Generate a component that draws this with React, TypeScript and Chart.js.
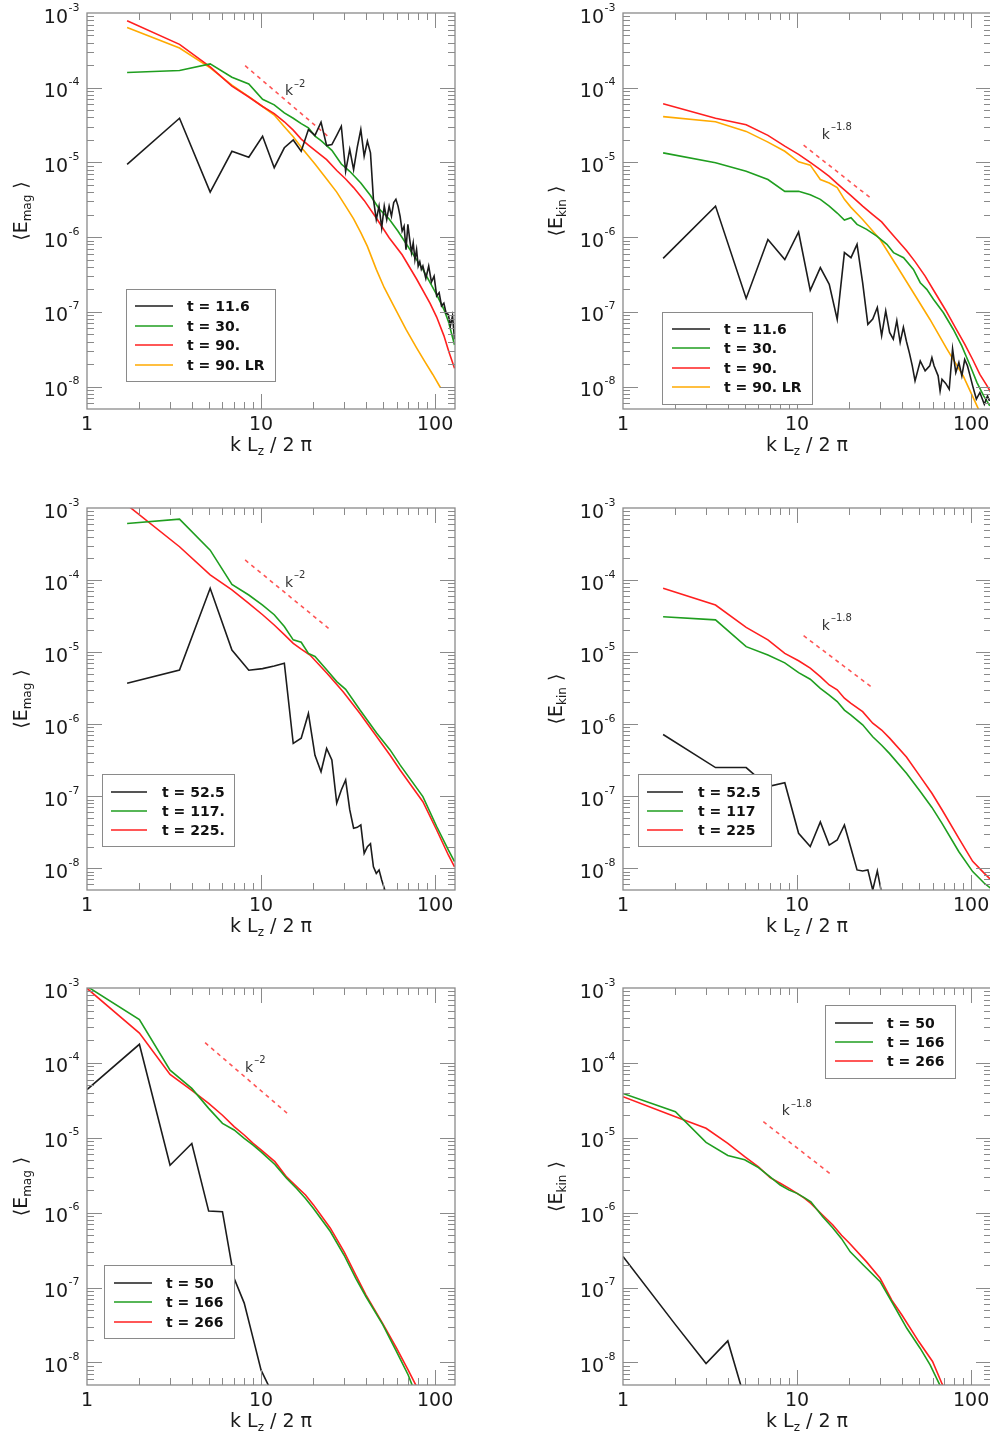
import React, { useEffect, useRef } from "react";
import { Chart, registerables } from "chart.js";

Chart.register(...registerables);

const FONT = '"DejaVu Sans", "Liberation Sans", sans-serif';
const C_BLACK = "#1c1c1c";
const C_GREEN = "#1f9e1f";
const C_RED = "#ff1f1f";
const C_ORANGE = "#ffaa00";
const C_SLOPE = "#ff5555";
const C_AXIS = "#8a8a8a";
const C_TEXT = "#1a1a1a";

const X_MIN = 1;
const X_MAX = 130;
const Y_MIN = 5e-9;
const Y_MAX = 1e-3;
const X_TICK_VALUES = [1, 10, 100];
const X_TICK_LABELS = ["1", "10", "100"];
const Y_TICK_EXPONENTS = [-3, -4, -5, -6, -7, -8];

const LEGEND_TOP = ["t = 11.6", "t = 30.", "t = 90.", "t = 90. LR"];
const LEGEND_MID_MAG = ["t = 52.5", "t = 117.", "t = 225."];
const LEGEND_MID_KIN = ["t = 52.5", "t = 117", "t = 225"];
const LEGEND_BOT = ["t = 50", "t = 166", "t = 266"];

// ---------- Top-left: <E_mag>, t = 11.6 / 30 / 90 / 90 LR ----------
const TL_K_BLACK = [1.7, 3.4, 5.1, 6.8, 8.5, 10.2, 11.9, 13.6, 15.3, 17, 18.7, 20.4, 22.1, 23.8, 25.5, 27.2, 28.9, 30.6, 32.3, 34, 35.7, 37.4, 39.1, 40.8, 42.5, 44.2, 45.9, 47.6, 49.3, 51, 52.7, 54.4, 56.1, 57.8, 59.5, 61.2, 62.9, 64.6, 66.3, 68, 69.7, 71.4, 73.1, 74.8, 76.5, 78.2, 79.9, 81.6, 83.3, 85, 88.4, 91.8, 95.2, 98.6, 102, 105.4, 108.8, 112.2, 115.6, 119, 122.4, 125.8, 129.2];
const TL_E_BLACK = [9.4e-6, 3.9e-5, 4.0e-6, 1.41e-5, 1.17e-5, 2.24e-5, 8.5e-6, 1.57e-5, 2.0e-5, 1.41e-5, 2.75e-5, 2.3e-5, 3.45e-5, 1.68e-5, 1.73e-5, 2.3e-5, 3.05e-5, 7.6e-6, 1.5e-5, 8.0e-6, 1.6e-5, 2.75e-5, 1.21e-5, 1.92e-5, 1.34e-5, 3.2e-6, 1.72e-6, 2.6e-6, 1.33e-6, 2.6e-6, 1.72e-6, 2.6e-6, 1.91e-6, 2.9e-6, 3.2e-6, 2.6e-6, 1.9e-6, 1.2e-6, 1.4e-6, 6.8e-7, 1.48e-6, 9.3e-7, 6.2e-7, 8.4e-7, 5.0e-7, 6.8e-7, 4.1e-7, 4.7e-7, 3.7e-7, 4.1e-7, 2.8e-7, 4.1e-7, 2.5e-7, 3.0e-7, 1.63e-7, 1.8e-7, 1.2e-7, 1.3e-7, 9.6e-8, 9.2e-8, 6.5e-8, 8.8e-8, 4.3e-8];
const TL_K_GREEN = [1.7, 3.4, 5.1, 6.8, 8.5, 10.2, 11.9, 13.6, 15.3, 17, 18.7, 20.4, 22.1, 25.5, 28.9, 32.3, 37.4, 42.5, 47.6, 54.4, 61.2, 68, 78.2, 85, 93.5, 102, 112.2, 119, 129.2];
const TL_E_GREEN = [1.6e-4, 1.7e-4, 2.08e-4, 1.38e-4, 1.12e-4, 7.0e-5, 5.9e-5, 4.6e-5, 3.9e-5, 3.3e-5, 2.9e-5, 2.25e-5, 1.95e-5, 1.45e-5, 9.5e-6, 7.6e-6, 5.3e-6, 3.6e-6, 2.4e-6, 1.75e-6, 1.2e-6, 8.2e-7, 5.0e-7, 3.7e-7, 2.45e-7, 1.7e-7, 1.08e-7, 7.5e-8, 3.6e-8];
const TL_K_RED = [1.7, 3.4, 5.1, 6.8, 8.5, 10.2, 11.9, 13.6, 15.3, 17, 18.7, 20.4, 23.8, 27.2, 30.6, 34, 39.1, 45.9, 54.4, 64.6, 78.2, 93.5, 102, 112.2, 120, 129.2];
const TL_E_RED = [7.9e-4, 3.8e-4, 1.9e-4, 1.05e-4, 7.5e-5, 5.6e-5, 4.5e-5, 3.5e-5, 2.7e-5, 2.05e-5, 1.7e-5, 1.45e-5, 1.09e-5, 7.8e-6, 6.0e-6, 4.6e-6, 3.1e-6, 1.8e-6, 9.8e-7, 5.8e-7, 2.75e-7, 1.3e-7, 8.5e-8, 4.8e-8, 2.9e-8, 1.75e-8];
const TL_K_ORANGE = [1.7, 3.4, 5.1, 6.8, 8.5, 10.2, 11.9, 13.6, 15.3, 17, 20.4, 23.8, 27.2, 30.6, 34, 37.4, 40.8, 45.9, 51, 57.8, 68, 78.2, 86.7, 96.9, 107.1];
const TL_E_ORANGE = [6.4e-4, 3.4e-4, 1.84e-4, 1.08e-4, 7.6e-5, 5.6e-5, 4.3e-5, 3.0e-5, 2.2e-5, 1.6e-5, 9.5e-6, 6.0e-6, 4.0e-6, 2.6e-6, 1.75e-6, 1.15e-6, 7.5e-7, 3.7e-7, 2.1e-7, 1.2e-7, 5.8e-8, 3.3e-8, 2.2e-8, 1.45e-8, 9.7e-9];
const TL_K_SLOPE = [8.1, 24.4];
const TL_E_SLOPE = [1.97e-4, 2.2e-5];

// ---------- Top-right: <E_kin>, t = 11.6 / 30 / 90 / 90 LR ----------
const TR_K_BLACK = [1.7, 3.4, 5.1, 6.8, 8.5, 10.2, 11.9, 13.6, 15.3, 17, 18.7, 20.4, 22.1, 23.8, 25.5, 27.2, 28.9, 30.6, 32.3, 34, 35.7, 37.4, 39.1, 40.8, 42.5, 44.2, 45.9, 47.6, 51, 54.4, 57.8, 59.5, 61.2, 64.6, 66.3, 68, 71.4, 74.8, 78.2, 81.6, 85, 88.4, 91.8, 95.2, 98.6, 102, 107.1, 112.2, 119, 124.1, 127.5];
const TR_E_BLACK = [5.2e-7, 2.6e-6, 1.51e-7, 9.3e-7, 5.0e-7, 1.17e-6, 1.94e-7, 3.9e-7, 2.33e-7, 7.9e-8, 6.2e-7, 5.3e-7, 8.0e-7, 2.45e-7, 6.8e-8, 8.0e-8, 1.14e-7, 4.8e-8, 1.03e-7, 5.3e-8, 4.3e-8, 7.6e-8, 3.9e-8, 6.2e-8, 4.0e-8, 2.8e-8, 1.89e-8, 1.19e-8, 2.2e-8, 1.62e-8, 1.89e-8, 2.44e-8, 1.9e-8, 1.39e-8, 8.7e-9, 1.25e-8, 1.1e-8, 9.2e-9, 3.2e-8, 1.54e-8, 2.1e-8, 1.39e-8, 2.3e-8, 1.9e-8, 1.39e-8, 1.02e-8, 6.8e-9, 8.3e-9, 5.8e-9, 7.5e-9, 6.4e-9];
const TR_K_GREEN = [1.7, 3.4, 5.1, 6.8, 8.5, 10.2, 11.9, 13.6, 15.3, 17, 18.7, 20.4, 22.1, 25.1, 28.7, 32.8, 35.8, 40.9, 46.6, 51, 55.6, 60.7, 69.3, 79, 88.3, 98.7, 108, 118, 128];
const TR_E_GREEN = [1.34e-5, 9.9e-6, 7.6e-6, 5.9e-6, 4.1e-6, 4.1e-6, 3.7e-6, 3.2e-6, 2.6e-6, 2.1e-6, 1.69e-6, 1.82e-6, 1.48e-6, 1.27e-6, 1.03e-6, 8.0e-7, 6.2e-7, 5.3e-7, 3.7e-7, 2.45e-7, 2.0e-7, 1.47e-7, 9.7e-8, 5.8e-8, 3.5e-8, 1.9e-8, 1.13e-8, 7.5e-9, 5.5e-9];
const TR_K_RED = [1.7, 3.4, 5.1, 6.8, 8.5, 10.2, 11.9, 13.6, 15.3, 17, 20.4, 23.8, 27.2, 30.6, 34, 37.4, 42.5, 47.6, 54.4, 61.2, 71.4, 81.6, 91.8, 102, 112.2, 122.4, 129.2];
const TR_E_RED = [6.1e-5, 3.9e-5, 3.2e-5, 2.3e-5, 1.65e-5, 1.28e-5, 1.0e-5, 8.0e-6, 6.5e-6, 5.2e-6, 3.6e-6, 2.6e-6, 2.0e-6, 1.6e-6, 1.2e-6, 9.3e-7, 6.6e-7, 4.7e-7, 3.0e-7, 1.9e-7, 1.05e-7, 6.0e-8, 3.7e-8, 2.3e-8, 1.45e-8, 1.05e-8, 8.5e-9];
const TR_K_ORANGE = [1.7, 3.4, 5.1, 6.8, 8.5, 10.2, 11.9, 13.6, 15.3, 17, 18.7, 20.4, 23.8, 30, 37.4, 46.6, 58, 72.5, 90, 108, 118];
const TR_E_ORANGE = [4.1e-5, 3.5e-5, 2.6e-5, 1.87e-5, 1.41e-5, 1.02e-5, 9.2e-6, 5.9e-6, 5.3e-6, 4.6e-6, 3.2e-6, 2.5e-6, 1.72e-6, 9.3e-7, 4.1e-7, 1.8e-7, 7.9e-8, 3.2e-8, 1.39e-8, 5.5e-9, 3.5e-9];
const TR_K_SLOPE = [10.9, 27.1];
const TR_E_SLOPE = [1.7e-5, 3.19e-6];

// ---------- Middle-left: <E_mag>, t = 52.5 / 117 / 225 ----------
const ML_K_BLACK = [1.7, 3.4, 5.1, 6.8, 8.5, 10.2, 11.9, 13.6, 15.3, 17, 18.7, 20.4, 22.1, 23.8, 25.5, 27.2, 28.9, 30.6, 32.3, 34, 35.7, 37.4, 39.1, 40.8, 42.5, 44.2, 45.9, 47.6, 49.3, 51, 52.7];
const ML_E_BLACK = [3.7e-6, 5.65e-6, 7.7e-5, 1.07e-5, 5.6e-6, 5.9e-6, 6.4e-6, 7.0e-6, 5.4e-7, 6.4e-7, 1.41e-6, 3.7e-7, 2.19e-7, 4.6e-7, 3.2e-7, 8.0e-8, 1.22e-7, 1.68e-7, 6.5e-8, 3.6e-8, 3.7e-8, 4.0e-8, 1.61e-8, 2.0e-8, 2.2e-8, 1.05e-8, 8.5e-9, 9.5e-9, 6.9e-9, 5.3e-9, 4.0e-9];
const ML_K_GREEN = [1.7, 3.4, 5.1, 6.8, 8.5, 10.2, 11.9, 13.6, 15.3, 17, 18.7, 20.4, 23.8, 27.2, 30.6, 37, 46.2, 55.1, 63, 85, 102, 119, 129.2];
const ML_E_GREEN = [6.1e-4, 7.0e-4, 2.6e-4, 8.7e-5, 6.2e-5, 4.5e-5, 3.3e-5, 2.26e-5, 1.48e-5, 1.37e-5, 9.6e-6, 8.7e-6, 5.7e-6, 3.9e-6, 3.05e-6, 1.57e-6, 7.5e-7, 4.4e-7, 2.7e-7, 9.9e-8, 3.8e-8, 1.8e-8, 1.24e-8];
const ML_K_RED = [1.7, 3.4, 5.1, 6.8, 8.5, 10.2, 11.9, 13.6, 15.3, 17, 19.1, 23.9, 29.6, 37, 46.2, 55.1, 63, 85, 102, 119, 129.2];
const ML_E_RED = [1.1e-3, 2.9e-4, 1.18e-4, 7.3e-5, 4.75e-5, 3.3e-5, 2.38e-5, 1.75e-5, 1.32e-5, 1.1e-5, 9.1e-6, 5.1e-6, 2.82e-6, 1.41e-6, 6.7e-7, 3.7e-7, 2.3e-7, 8.4e-8, 3.4e-8, 1.53e-8, 1.05e-8];
const ML_K_SLOPE = [8.1, 24.4];
const ML_E_SLOPE = [1.9e-4, 2.14e-5];

// ---------- Middle-right: <E_kin>, t = 52.5 / 117 / 225 ----------
const MR_K_BLACK = [1.7, 3.4, 5.1, 6.8, 8.5, 10.2, 11.9, 13.6, 15.3, 17, 18.7, 20.4, 22.1, 23.8, 25.5, 27.2, 28.9, 30.6, 32.3];
const MR_E_BLACK = [7.2e-7, 2.5e-7, 2.5e-7, 1.36e-7, 1.54e-7, 3.06e-8, 2.0e-8, 4.4e-8, 2.1e-8, 2.47e-8, 4.0e-8, 1.9e-8, 9.5e-9, 9.2e-9, 9.5e-9, 5.0e-9, 9.2e-9, 4.5e-9, 3.5e-9];
const MR_K_GREEN = [1.7, 3.4, 5.1, 6.8, 8.5, 10.2, 11.9, 13.6, 15.3, 17, 18.7, 20.4, 23.8, 27.2, 30.6, 34, 42.5, 51, 59.5, 68, 85, 102, 119, 129.2];
const MR_E_GREEN = [3.1e-5, 2.8e-5, 1.19e-5, 9.1e-6, 7.1e-6, 5.2e-6, 4.2e-6, 3.15e-6, 2.54e-6, 2.06e-6, 1.57e-6, 1.34e-6, 9.8e-7, 6.7e-7, 5.1e-7, 3.9e-7, 2.08e-7, 1.16e-7, 7.0e-8, 4.2e-8, 1.7e-8, 9.0e-9, 6.2e-9, 5.3e-9];
const MR_K_RED = [1.7, 3.4, 5.1, 6.8, 8.5, 10.2, 11.9, 13.6, 15.3, 17, 18.7, 20.4, 23.8, 27.2, 30.6, 34, 42.5, 51, 59.5, 68, 85, 102, 119, 129.2];
const MR_E_RED = [7.7e-5, 4.5e-5, 2.2e-5, 1.48e-5, 9.6e-6, 7.6e-6, 6.0e-6, 4.57e-6, 3.5e-6, 3.0e-6, 2.29e-6, 1.95e-6, 1.49e-6, 1.03e-6, 8.3e-7, 6.4e-7, 3.5e-7, 1.87e-7, 1.1e-7, 6.5e-8, 2.6e-8, 1.25e-8, 8.5e-9, 7.0e-9];
const MR_K_SLOPE = [10.9, 27.1];
const MR_E_SLOPE = [1.69e-5, 3.2e-6];

// ---------- Bottom-left: <E_mag>, t = 50 / 166 / 266 ----------
const BL_K_BLACK = [1, 2, 3, 4, 5, 6, 7, 8, 9, 10, 11, 12];
const BL_E_BLACK = [4.4e-5, 1.77e-4, 4.3e-6, 8.4e-6, 1.05e-6, 1.03e-6, 1.33e-7, 6.2e-8, 2.1e-8, 7.9e-9, 5.0e-9, 3.5e-9];
const BL_K_GREEN = [1, 2, 3, 4, 5, 6, 7, 8, 9, 10, 12, 14, 16, 18, 20, 25, 30, 35, 40, 50, 60, 70, 75];
const BL_E_GREEN = [1.05e-3, 3.8e-4, 8.0e-5, 4.57e-5, 2.47e-5, 1.56e-5, 1.27e-5, 9.8e-6, 8.0e-6, 6.5e-6, 4.4e-6, 2.88e-6, 2.1e-6, 1.55e-6, 1.14e-6, 5.6e-7, 2.7e-7, 1.33e-7, 7.6e-8, 3.2e-8, 1.4e-8, 6.8e-9, 4.5e-9];
const BL_K_RED = [1, 2, 3, 4, 5, 6, 7, 8, 9, 10, 12, 14, 16, 18, 20, 25, 30, 35, 40, 50, 60, 70, 80];
const BL_E_RED = [9.9e-4, 2.5e-4, 7.0e-5, 4.3e-5, 2.88e-5, 2.0e-5, 1.41e-5, 1.09e-5, 8.4e-6, 6.9e-6, 4.8e-6, 3.0e-6, 2.23e-6, 1.72e-6, 1.27e-6, 6.2e-7, 3.0e-7, 1.47e-7, 8.0e-8, 3.3e-8, 1.55e-8, 7.9e-9, 4.3e-9];
const BL_K_SLOPE = [4.77, 14.35];
const BL_E_SLOPE = [1.86e-4, 2.06e-5];

// ---------- Bottom-right: <E_kin>, t = 50 / 166 / 266 ----------
const BR_K_BLACK = [1, 2, 3, 4, 5];
const BR_E_BLACK = [2.6e-7, 3.2e-8, 9.7e-9, 1.94e-8, 3.3e-9];
const BR_K_GREEN = [1, 2, 3, 4, 5, 6, 7, 8, 9, 10, 11, 12, 14, 16, 18, 20.2, 24, 30, 35.8, 42.7, 50.9, 58.1, 65.8, 70];
const BR_E_GREEN = [3.9e-5, 2.23e-5, 8.7e-6, 5.8e-6, 5.1e-6, 4.0e-6, 3.0e-6, 2.34e-6, 2.0e-6, 1.81e-6, 1.59e-6, 1.4e-6, 8.9e-7, 6.3e-7, 4.5e-7, 3.0e-7, 2.0e-7, 1.2e-7, 5.9e-8, 2.86e-8, 1.55e-8, 9.3e-9, 5.1e-9, 4.0e-9];
const BR_K_RED = [1, 2, 3, 4, 5, 6, 7, 8, 9, 10, 11, 12, 14, 16, 18, 20, 25, 30, 35, 40, 50, 60, 68, 72];
const BR_E_RED = [3.54e-5, 1.91e-5, 1.34e-5, 8.4e-6, 5.6e-6, 4.1e-6, 2.94e-6, 2.47e-6, 2.11e-6, 1.81e-6, 1.56e-6, 1.33e-6, 9.3e-7, 6.9e-7, 5.0e-7, 3.9e-7, 2.22e-7, 1.33e-7, 6.8e-8, 4.3e-8, 1.9e-8, 1.03e-8, 5.2e-9, 4.0e-9];
const BR_K_SLOPE = [6.4, 16];
const BR_E_SLOPE = [1.64e-5, 3.13e-6];

type Series = { k: number[]; e: number[]; color: string };
type Panel = {
  x: number; y: number; w: number; h: number;
  area: [number, number, number, number];
  series: Series[];
  slopeK: number[]; slopeE: number[];
  slopeAt: [number, number]; slopeExp: string;
  sub: string; titleX: number;
  legBox: [number, number, number, number];
  legLine: [number, number]; legTextX: number; legRows: number[]; legLabels: string[];
};

const PANELS: Panel[] = [
  {
    x: 0, y: 0, w: 480, h: 465, area: [87, 13, 455, 409],
    series: [
      { k: TL_K_BLACK, e: TL_E_BLACK, color: C_BLACK },
      { k: TL_K_GREEN, e: TL_E_GREEN, color: C_GREEN },
      { k: TL_K_RED, e: TL_E_RED, color: C_RED },
      { k: TL_K_ORANGE, e: TL_E_ORANGE, color: C_ORANGE },
    ],
    slopeK: TL_K_SLOPE, slopeE: TL_E_SLOPE, slopeAt: [13.7, 7.9e-5], slopeExp: "–2",
    sub: "mag", titleX: 20,
    legBox: [126, 289, 275, 381], legLine: [135, 173], legTextX: 187, legRows: [306, 326, 345, 365], legLabels: LEGEND_TOP,
  },
  {
    x: 495, y: 0, w: 505, h: 465, area: [623, 13, 991, 409],
    series: [
      { k: TR_K_BLACK, e: TR_E_BLACK, color: C_BLACK },
      { k: TR_K_GREEN, e: TR_E_GREEN, color: C_GREEN },
      { k: TR_K_RED, e: TR_E_RED, color: C_RED },
      { k: TR_K_ORANGE, e: TR_E_ORANGE, color: C_ORANGE },
    ],
    slopeK: TR_K_SLOPE, slopeE: TR_E_SLOPE, slopeAt: [13.87, 2.07e-5], slopeExp: "–1.8",
    sub: "kin", titleX: 555,
    legBox: [662, 312, 812, 404], legLine: [672, 710], legTextX: 724, legRows: [329, 348, 368, 387], legLabels: LEGEND_TOP,
  },
  {
    x: 0, y: 470, w: 480, h: 480, area: [87, 508, 455, 890],
    series: [
      { k: ML_K_BLACK, e: ML_E_BLACK, color: C_BLACK },
      { k: ML_K_GREEN, e: ML_E_GREEN, color: C_GREEN },
      { k: ML_K_RED, e: ML_E_RED, color: C_RED },
    ],
    slopeK: ML_K_SLOPE, slopeE: ML_E_SLOPE, slopeAt: [13.7, 8.1e-5], slopeExp: "–2",
    sub: "mag", titleX: 20,
    legBox: [102, 774, 234, 846], legLine: [111, 147], legTextX: 162, legRows: [792, 811, 830], legLabels: LEGEND_MID_MAG,
  },
  {
    x: 495, y: 470, w: 505, h: 480, area: [623, 508, 991, 890],
    series: [
      { k: MR_K_BLACK, e: MR_E_BLACK, color: C_BLACK },
      { k: MR_K_GREEN, e: MR_E_GREEN, color: C_GREEN },
      { k: MR_K_RED, e: MR_E_RED, color: C_RED },
    ],
    slopeK: MR_K_SLOPE, slopeE: MR_E_SLOPE, slopeAt: [13.87, 2.03e-5], slopeExp: "–1.8",
    sub: "kin", titleX: 555,
    legBox: [638, 774, 771, 846], legLine: [647, 683], legTextX: 698, legRows: [792, 811, 830], legLabels: LEGEND_MID_KIN,
  },
  {
    x: 0, y: 955, w: 480, h: 480, area: [87, 988, 455, 1385],
    series: [
      { k: BL_K_BLACK, e: BL_E_BLACK, color: C_BLACK },
      { k: BL_K_GREEN, e: BL_E_GREEN, color: C_GREEN },
      { k: BL_K_RED, e: BL_E_RED, color: C_RED },
    ],
    slopeK: BL_K_SLOPE, slopeE: BL_E_SLOPE, slopeAt: [8.09, 7.6e-5], slopeExp: "–2",
    sub: "mag", titleX: 20,
    legBox: [104, 1265, 234, 1338], legLine: [114, 152], legTextX: 166, legRows: [1283, 1302, 1322], legLabels: LEGEND_BOT,
  },
  {
    x: 495, y: 955, w: 505, h: 480, area: [623, 988, 991, 1385],
    series: [
      { k: BR_K_BLACK, e: BR_E_BLACK, color: C_BLACK },
      { k: BR_K_GREEN, e: BR_E_GREEN, color: C_GREEN },
      { k: BR_K_RED, e: BR_E_RED, color: C_RED },
    ],
    slopeK: BR_K_SLOPE, slopeE: BR_E_SLOPE, slopeAt: [8.17, 2.0e-5], slopeExp: "–1.8",
    sub: "kin", titleX: 555,
    legBox: [825, 1005, 955, 1078], legLine: [835, 873], legTextX: 887, legRows: [1023, 1042, 1061], legLabels: LEGEND_BOT,
  },
];

type Part = { t: string; s: number; dy: number };

function drawParts(ctx: CanvasRenderingContext2D, parts: Part[], cx: number, by: number) {
  let total = 0;
  const widths = parts.map((p) => {
    ctx.font = `${p.s}px ${FONT}`;
    const w = ctx.measureText(p.t).width;
    total += w;
    return w;
  });
  let x = cx - total / 2;
  ctx.textAlign = "left";
  ctx.textBaseline = "alphabetic";
  parts.forEach((p, i) => {
    ctx.font = `${p.s}px ${FONT}`;
    ctx.fillText(p.t, x, by + p.dy);
    x += widths[i];
  });
}

function decor(cfg: Panel) {
  return {
    id: "decor",
    afterDatasetsDraw(chart: any) {
      const ctx = chart.ctx as CanvasRenderingContext2D;
      const xs = chart.scales.x;
      const ys = chart.scales.y;
      const { left: l, right: r, top: t, bottom: b } = chart.chartArea;
      const ox = cfg.x;
      const oy = cfg.y;
      ctx.save();

      // ticks on all four sides
      ctx.strokeStyle = C_AXIS;
      ctx.lineWidth = 1;
      ctx.beginPath();
      for (let d = 1; d <= 100; d *= 10) {
        for (let m = 1; m <= 9; m++) {
          const v = m * d;
          if (v <= X_MIN || v >= X_MAX) continue;
          const p = Math.round(xs.getPixelForValue(v)) + 0.5;
          const len = m === 1 ? 15 : 7;
          ctx.moveTo(p, b); ctx.lineTo(p, b - len);
          ctx.moveTo(p, t); ctx.lineTo(p, t + len);
        }
      }
      for (let e = -9; e <= -3; e++) {
        for (let m = 1; m <= 9; m++) {
          const v = m * Math.pow(10, e);
          if (v <= Y_MIN * 1.001 || v >= Y_MAX * 0.999) continue;
          const p = Math.round(ys.getPixelForValue(v)) + 0.5;
          const len = m === 1 ? 15 : 7;
          ctx.moveTo(l, p); ctx.lineTo(l + len, p);
          ctx.moveTo(r, p); ctx.lineTo(r - len, p);
        }
      }
      ctx.stroke();
      ctx.lineWidth = 1.3;
      ctx.strokeRect(l, t, r - l, b - t);

      // tick labels
      ctx.fillStyle = C_TEXT;
      ctx.textBaseline = "alphabetic";
      X_TICK_VALUES.forEach((v, i) => {
        ctx.font = `19px ${FONT}`;
        ctx.textAlign = "center";
        ctx.fillText(X_TICK_LABELS[i], xs.getPixelForValue(v), b + 21);
      });
      Y_TICK_EXPONENTS.forEach((e) => {
        const p = ys.getPixelForValue(Math.pow(10, e));
        ctx.font = `19px ${FONT}`;
        ctx.textAlign = "right";
        ctx.fillText("10", l - 19, p + 9.5);
        ctx.font = `11px ${FONT}`;
        ctx.textAlign = "left";
        ctx.fillText(String(e), l - 18.5, p - 2.5);
      });

      // x title
      drawParts(ctx, [
        { t: "k L", s: 19, dy: 0 },
        { t: "z", s: 12, dy: 4 },
        { t: " / 2 π", s: 19, dy: 0 },
      ], (l + r) / 2, b + 42);

      // y title (rotated)
      ctx.save();
      ctx.translate(cfg.titleX - ox, (t + b) / 2);
      ctx.rotate(-Math.PI / 2);
      drawParts(ctx, [
        { t: "⟨E", s: 19, dy: 0 },
        { t: cfg.sub, s: 12, dy: 3.5 },
        { t: " ⟩", s: 19, dy: 0 },
      ], 0, 7);
      ctx.restore();

      // slope annotation
      const sx = xs.getPixelForValue(cfg.slopeAt[0]);
      const sy = ys.getPixelForValue(cfg.slopeAt[1]);
      ctx.font = `14px ${FONT}`;
      ctx.textAlign = "left";
      ctx.fillStyle = "#333";
      ctx.fillText("k", sx, sy);
      const kw = ctx.measureText("k").width;
      ctx.font = `10px ${FONT}`;
      ctx.fillText(cfg.slopeExp, sx + kw + 1, sy - 8.5);

      // legend
      const [bx0, by0, bx1, by1] = cfg.legBox;
      ctx.fillStyle = "#ffffff";
      ctx.fillRect(bx0 - ox, by0 - oy, bx1 - bx0, by1 - by0);
      ctx.strokeStyle = C_AXIS;
      ctx.lineWidth = 1;
      ctx.strokeRect(bx0 - ox + 0.5, by0 - oy + 0.5, bx1 - bx0, by1 - by0);
      cfg.legRows.forEach((ry, i) => {
        ctx.strokeStyle = cfg.series[i].color;
        ctx.lineWidth = 1.6;
        ctx.beginPath();
        ctx.moveTo(cfg.legLine[0] - ox, ry - oy);
        ctx.lineTo(cfg.legLine[1] - ox, ry - oy);
        ctx.stroke();
        ctx.fillStyle = "#111";
        ctx.font = `bold 14px ${FONT}`;
        ctx.textAlign = "left";
        ctx.textBaseline = "middle";
        ctx.fillText(cfg.legLabels[i], cfg.legTextX - ox, ry - oy + 1);
      });
      ctx.restore();
    },
  };
}

function SpectrumPanel({ cfg }: { cfg: Panel }) {
  const ref = useRef<HTMLCanvasElement>(null);
  useEffect(() => {
    const canvas = ref.current;
    if (!canvas) return;
    const [l, t, r, b] = cfg.area;
    const datasets: any[] = cfg.series.map((s) => ({
      data: s.k.map((k, i) => ({ x: k, y: s.e[i] })),
      borderColor: s.color,
      borderWidth: 1.6,
      pointRadius: 0,
      fill: false,
      tension: 0,
    }));
    datasets.push({
      data: cfg.slopeK.map((k, i) => ({ x: k, y: cfg.slopeE[i] })),
      borderColor: C_SLOPE,
      borderWidth: 1.6,
      borderDash: [4, 4],
      pointRadius: 0,
      fill: false,
      tension: 0,
    });
    const chart = new Chart(canvas, {
      type: "line",
      data: { datasets },
      options: {
        responsive: false,
        animation: false,
        devicePixelRatio: 1,
        events: [],
        layout: {
          padding: { left: l - cfg.x, top: t - cfg.y, right: cfg.x + cfg.w - r, bottom: cfg.y + cfg.h - b },
        },
        plugins: { legend: { display: false }, tooltip: { enabled: false } },
        scales: {
          x: { type: "logarithmic", min: X_MIN, max: X_MAX, display: false },
          y: { type: "logarithmic", min: Y_MIN, max: Y_MAX, display: false },
        },
      },
      plugins: [decor(cfg)],
    } as any);
    return () => chart.destroy();
  }, [cfg]);
  return (
    <canvas
      ref={ref}
      width={cfg.w}
      height={cfg.h}
      style={{ position: "absolute", left: cfg.x, top: cfg.y, width: cfg.w, height: cfg.h }}
    />
  );
}

export default function App() {
  return (
    <div style={{ position: "absolute", left: 0, top: 0, width: 990, height: 1435, overflow: "hidden", background: "#ffffff" }}>
      {PANELS.map((p, i) => (
        <SpectrumPanel key={i} cfg={p} />
      ))}
    </div>
  );
}
